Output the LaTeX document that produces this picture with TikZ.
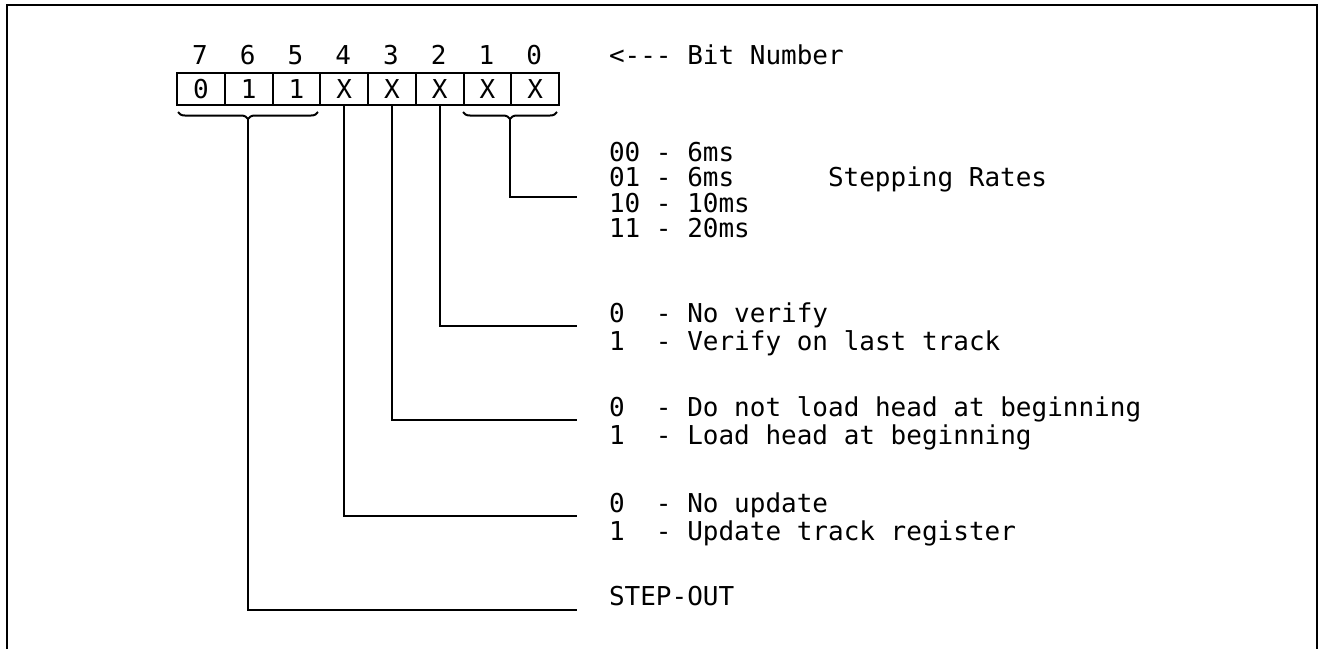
\documentclass[tikz,border=0pt]{standalone}
\usepackage{fontspec}
\setmonofont{DejaVu Sans Mono}
\usetikzlibrary{decorations.pathreplacing}
\begin{document}
\begin{tikzpicture}[x=0.5pt,y=-0.5pt,line width=1pt,
  lg/.style={font=\ttfamily\fontsize{13}{13}\selectfont},
  txt/.style={lg,anchor=base west,inner sep=0pt},
  cell/.style={lg,draw,minimum width=23.875pt,minimum height=16pt,inner sep=0pt,anchor=north west},
  digit/.style={lg,inner sep=0pt},
  brc/.style={decorate,decoration={brace,mirror,amplitude=3.5pt}}]
\useasboundingbox (0,0) rectangle (1325,649);
% frame
\draw (7,649) -- (7,5) -- (1317,5) -- (1317,649);
% cells and bit numbers
\foreach \b/\v [count=\k from 0] in {7/0,6/1,5/1,4/X,3/X,2/X,1/X,0/X}{
  \node[cell] (c\b) at ({176+47.75*\k},72) {\v};
  \node[digit] (d\b) at ({199.875+47.75*\k},55) {\b};
}
% braces
\coordinate (bL1) at (178,112);
\coordinate (bL2) at (318,112);
\coordinate (bR1) at (463,112);
\coordinate (bR2) at (557,112);
\draw[brc] (bL1) -- (bL2);
\draw[brc] (bR1) -- (bR2);
\coordinate (tipL) at (247.6,119);
\coordinate (tipR) at (510.25,119);
% texts
\node[txt] (bitnum) at (608,64) {<--- Bit Number};
\node[txt] (r00) at (608,161) {00 - 6ms};
\node[txt] (r01) at (608,186) {01 - 6ms};
\node[txt] (r10) at (608,212) {10 - 10ms};
\node[txt] (r11) at (608,237) {11 - 20ms};
\node[txt] (srate) at (827,186) {Stepping Rates};
\node[txt] (v0) at (608,322) {0\ \ - No verify};
\node[txt] (v1) at (608,350) {1\ \ - Verify on last track};
\node[txt] (h0) at (608,416) {0\ \ - Do not load head at beginning};
\node[txt] (h1) at (608,444) {1\ \ - Load head at beginning};
\node[txt] (u0) at (608,512) {0\ \ - No update};
\node[txt] (u1) at (608,540) {1\ \ - Update track register};
\node[txt] (so) at (608,605) {STEP-OUT};
% connector ends
\coordinate (eR) at (577,197);
\coordinate (e2) at (577,326);
\coordinate (e3) at (577,420);
\coordinate (e4) at (577,516);
\coordinate (eL) at (577,610);
% connectors
\draw (tipR) |- (eR);
\draw (c2.south) |- (e2);
\draw (c3.south) |- (e3);
\draw (c4.south) |- (e4);
\draw (tipL) |- (eL);
\end{tikzpicture}
\end{document}
